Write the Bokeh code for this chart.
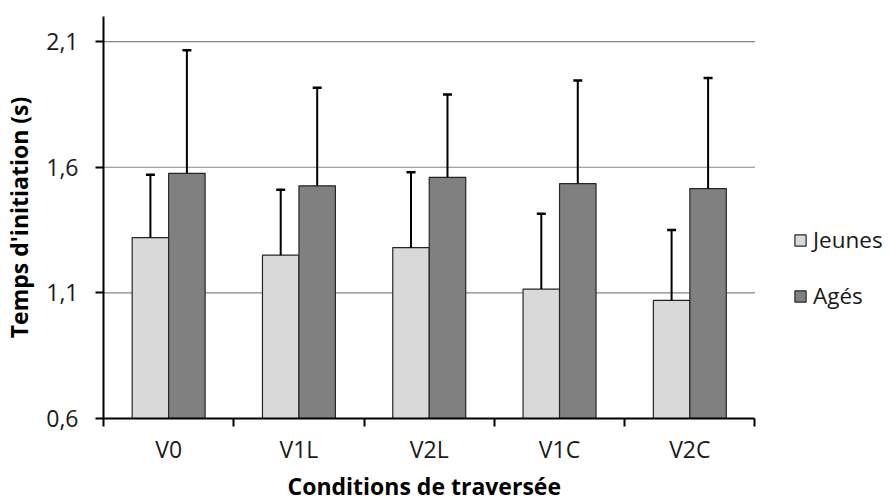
from bokeh.plotting import figure
from bokeh.models import (Range1d, FixedTicker, Whisker, TeeHead, ColumnDataSource,
                          Legend, LegendItem, Title)
from bokeh.transform import dodge
from bokeh.embed import file_html
from bokeh.resources import INLINE

conditions = ["V0", "V1L", "V2L", "V1C", "V2C"]
series = ["Jeunes", "Agés"]
jeunes_mean = [1.32, 1.25, 1.28, 1.115, 1.07]
jeunes_sd = [0.25, 0.26, 0.30, 0.30, 0.28]
ages_mean = [1.576, 1.526, 1.56, 1.535, 1.515]
ages_sd = [0.49, 0.39, 0.33, 0.41, 0.44]
y_ticks = [0.6, 1.1, 1.6, 2.1]
y_tick_labels = ["0,6", "1,1", "1,6", "2,1"]
colors = ["#D9D9D9", "#808080"]
x_title = "Conditions de traversée"
y_title = "Temps d'initiation (s)"

FONT = "Open Sans"
n = len(conditions)
centers = [i + 0.5 for i in range(n)]
src = ColumnDataSource(dict(
    x=centers,
    jm=jeunes_mean, jt=[m + s for m, s in zip(jeunes_mean, jeunes_sd)],
    am=ages_mean, at=[m + s for m, s in zip(ages_mean, ages_sd)],
))

# x range extends past the last category to leave room for the legend
p = figure(width=890, height=504, output_backend="svg", toolbar_location=None,
           x_range=Range1d(0, 6.04), y_range=Range1d(0.6, 2.2),
           min_border_left=103, min_border_right=0, min_border_top=16, min_border_bottom=86)
p.outline_line_color = None
p.background_fill_color = "white"
p.border_fill_color = "white"
p.xgrid.grid_line_color = None
p.ygrid.grid_line_color = None

# horizontal gridlines limited to the category area
gy = y_ticks[1:]
p.segment(x0=[0] * len(gy), x1=[n] * len(gy), y0=gy, y1=gy,
          line_color="#868686", line_width=1.2, level="underlay")

rj = p.vbar(x=dodge("x", -0.14), top="jm", bottom=0.6, width=0.28, source=src,
            fill_color=colors[0], line_color="#262626", line_width=1.2)
ra = p.vbar(x=dodge("x", 0.14), top="am", bottom=0.6, width=0.28, source=src,
            fill_color=colors[1], line_color="#262626", line_width=1.2)

for xoff, lo, hi in [(-0.14, "jm", "jt"), (0.14, "am", "at")]:
    w = Whisker(source=src, base=dodge("x", xoff), lower=lo, upper=hi,
                lower_head=None, upper_head=TeeHead(size=9, line_width=2.5, line_color="black"),
                line_width=2, line_color="black", level="overlay")
    p.add_layout(w)

# y axis
p.yaxis.ticker = FixedTicker(ticks=y_ticks, minor_ticks=[])
p.yaxis.major_label_overrides = {t: l for t, l in zip(y_ticks, y_tick_labels)}
p.yaxis.axis_label = y_title
p.yaxis.major_tick_in = 0
p.yaxis.major_tick_out = 8
p.yaxis.major_label_standoff = 17
p.yaxis.axis_label_standoff = 8

# x axis: labels at category centres, ticks at boundaries
p.xaxis.bounds = (0, n)
p.xaxis.ticker = FixedTicker(ticks=centers, minor_ticks=list(range(n + 1)))
p.xaxis.major_label_overrides = {c: l for c, l in zip(centers, conditions)}
p.xaxis.major_tick_in = 0
p.xaxis.major_tick_out = 0
p.xaxis.minor_tick_in = 0
p.xaxis.minor_tick_out = 8
p.xaxis.minor_tick_line_color = "black"
p.xaxis.minor_tick_line_width = 2
p.xaxis.major_label_standoff = 6

for ax in [p.xaxis[0], p.yaxis[0]]:
    ax.axis_line_color = "black"
    ax.axis_line_width = 2
    ax.major_tick_line_color = "black"
    ax.major_tick_line_width = 2
    ax.major_label_text_font = FONT
    ax.major_label_text_font_size = "23px"
    ax.major_label_text_color = "#1a1a1a"
    ax.axis_label_text_font = FONT
    ax.axis_label_text_font_size = "23px"
    ax.axis_label_text_font_style = "bold"
    ax.axis_label_text_color = "black"

# x-axis title under the category area (the frame also holds the legend)
xt = Title(text=x_title, align="left", offset=184, standoff=0,
           text_font=FONT, text_font_size="23px", text_font_style="bold",
           text_color="black")
p.add_layout(xt, "below")

legend = Legend(items=[LegendItem(label=series[0], renderers=[rj]),
                       LegendItem(label=series[1], renderers=[ra])],
                location=(690, 107), padding=0, margin=0, spacing=25,
                glyph_width=14, glyph_height=14, label_standoff=6,
                border_line_color=None, background_fill_alpha=0,
                label_text_font=FONT, label_text_font_size="22.5px",
                label_text_color="#1a1a1a")
p.add_layout(legend)

open("out.html", "w").write(file_html(p, INLINE))
